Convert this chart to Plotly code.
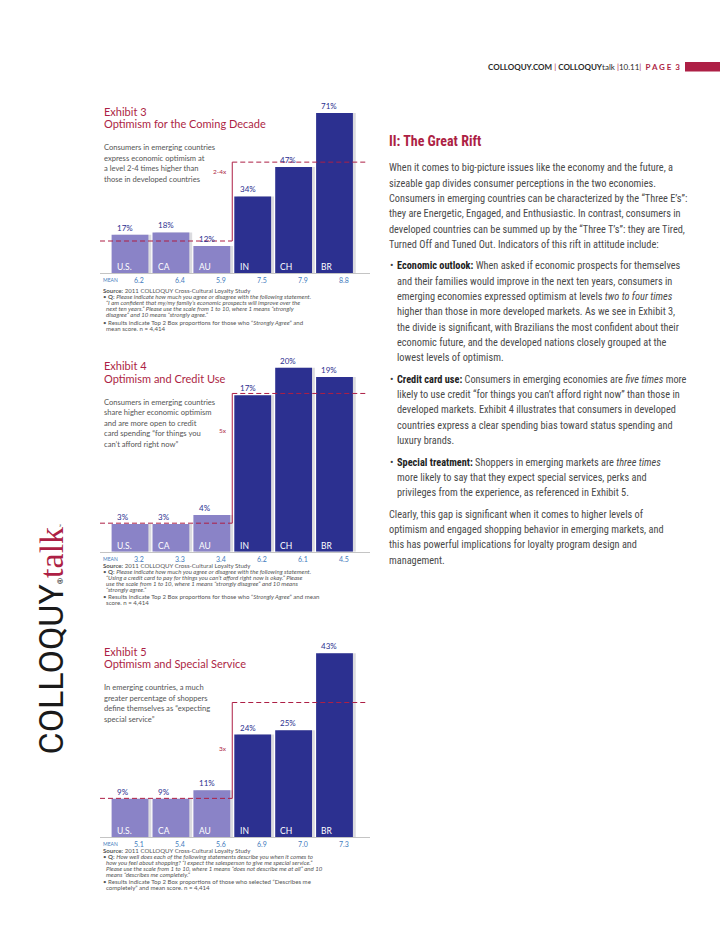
import plotly.graph_objects as go

PAGE_W, PAGE_H = 728, 943
OFF = 8                      # browser default body margin
W, H = PAGE_W - OFF, PAGE_H - OFF

# ---------------- data ----------------
countries = ["U.S.", "CA", "AU", "IN", "CH", "BR"]
market_type = ["developed", "developed", "developed", "emerging", "emerging", "emerging"]

ex3_values = [17, 18, 12, 34, 47, 71]
ex3_means = ["6.2", "6.4", "5.9", "7.5", "7.9", "8.8"]
ex4_values = [3, 3, 4, 17, 20, 19]
ex4_means = ["3.2", "3.3", "3.4", "6.2", "6.1", "4.5"]
ex5_values = [9, 9, 11, 24, 25, 43]
ex5_means = ["5.1", "5.4", "5.6", "6.9", "7.0", "7.3"]

ref_low = [14.2, 3.1, 9.1]      # developed-markets reference level (dashed)
ref_high = [49.2, 17.2, 31.5]   # emerging-markets reference level (dashed)
ratio_labels = ["2-4x", "5x", "3x"]

exhibit_nums = ["Exhibit 3", "Exhibit 4", "Exhibit 5"]
exhibit_titles = ["Optimism for the Coming Decade", "Optimism and Credit Use",
                  "Optimism and Special Service"]
descriptions = [
    ["Consumers in emerging countries", "express economic optimism at",
     "a level 2-4 times higher than", "those in developed countries"],
    ["Consumers in emerging countries", "share higher economic optimism",
     "and are more open to credit", "card spending “for things you",
     "can’t afford right now”"],
    ["In emerging countries, a much", "greater percentage of shoppers",
     "define themselves as “expecting", "special service”"],
]
notes = [
    ["<b>Source:</b> 2011 COLLOQUY Cross-Cultural Loyalty Study",
     "• <b>Q:</b> <i>Please indicate how much you agree or disagree with the following statement.</i>",
     "   <i>“I am confident that my/my family’s economic prospects will improve over the</i>",
     "   <i>next ten years.” Please use the scale from 1 to 10, where 1 means “strongly</i>",
     "   <i>disagree” and 10 means “strongly agree.”</i>",
     "• Results indicate Top 2 Box proportions for those who “<i>Strongly Agree</i>” and",
     "   mean score. n = 4,414"],
    ["<b>Source:</b> 2011 COLLOQUY Cross-Cultural Loyalty Study",
     "• <b>Q:</b> <i>Please indicate how much you agree or disagree with the following statement.</i>",
     "   <i>“Using a credit card to pay for things you can’t afford right now is okay.” Please</i>",
     "   <i>use the scale from 1 to 10, where 1 means “strongly disagree” and 10 means</i>",
     "   <i>“strongly agree.”</i>",
     "• Results indicate Top 2 Box proportions for those who “<i>Strongly Agree</i>” and mean",
     "   score. n = 4,414"],
    ["<b>Source:</b> 2011 COLLOQUY Cross-Cultural Loyalty Study",
     "• <b>Q:</b> <i>How well does each of the following statements describe you when it comes to</i>",
     "   <i>how you feel about shopping? “I expect the salesperson to give me special service.”</i>",
     "   <i>Please use the scale from 1 to 10, where 1 means “does not describe me at all” and 10</i>",
     "   <i>means “describes me completely.”</i>",
     "• Results indicate Top 2 Box proportions of those who selected “Describes me",
     "   completely” and mean score. n = 4,414"],
]

section_title = "II: The Great Rift"
body_blocks = [
    ("para", ["When it comes to big-picture issues like the economy and the future, a",
              "sizeable gap divides consumer perceptions in the two economies.",
              "Consumers in emerging countries can be characterized by the “Three E’s”:",
              "they are Energetic, Engaged, and Enthusiastic. In contrast, consumers in",
              "developed countries can be summed up by the “Three T’s”: they are Tired,",
              "Turned Off and Tuned Out. Indicators of this rift in attitude include:"]),
    ("bullet", ["<b>Economic outlook:</b> When asked if economic prospects for themselves",
                "and their families would improve in the next ten years, consumers in",
                "emerging economies expressed optimism at levels <i>two to four times</i>",
                "higher than those in more developed markets. As we see in Exhibit 3,",
                "the divide is significant, with Brazilians the most confident about their",
                "economic future, and the developed nations closely grouped at the",
                "lowest levels of optimism."]),
    ("bullet", ["<b>Credit card use:</b> Consumers in emerging economies are <i>five times</i> more",
                "likely to use credit “for things you can’t afford right now” than those in",
                "developed markets. Exhibit 4 illustrates that consumers in developed",
                "countries express a clear spending bias toward status spending and",
                "luxury brands."]),
    ("bullet", ["<b>Special treatment:</b> Shoppers in emerging markets are <i>three times</i>",
                "more likely to say that they expect special services, perks and",
                "privileges from the experience, as referenced in Exhibit 5."]),
    ("para", ["Clearly, this gap is significant when it comes to higher levels of",
              "optimism and engaged shopping behavior in emerging markets, and",
              "this has powerful implications for loyalty program design and",
              "management."]),
]

values = [ex3_values, ex4_values, ex5_values]
means = [ex3_means, ex4_means, ex5_means]

# ---------------- styling / layout ----------------
CRIMSON = "#ad1f45"
LIGHT = "#8a83c7"
DARK = "#2c3090"
NAVY_TXT = "#2c3090"
MEAN_CLR = "#3f7bbd"
GREY = "#555555"
BODY_FONT = "Liberation Sans Narrow, Arial Narrow, Roboto Condensed, Roboto, sans-serif"
CH_FONT = "Lato, Open Sans, sans-serif"


def PX(x):
    return (x - OFF) / W


def PY(y):
    return 1 - (y - OFF) / H


X_LEFT, X_RIGHT = 100, 370
PITCH, C0 = 40.9, 130.0
xr = [(X_LEFT - C0) / PITCH, (X_RIGHT - C0) / PITCH]
x_split = 2.5
x_high_end = (368 - C0) / PITCH

base_px = [273, 551.7, 837.3]       # baseline pixel of each exhibit
maxtop_px = [113, 367.7, 653.3]     # pixel of tallest bar top
dom_top_px = [100, 360, 645]
title_y = [(111.5, 123), (366, 378.3), (651, 663.3)]
desc_y0 = [147.3, 401.7, 687.3]
desc_dy = 10.5
notes_y0 = [290.5, 565, 850]
ratio_y = [171, 430, 748]

fig = go.Figure()
annotations = []
shapes = []
layout_axes = {}

for k in range(3):
    xa = "x" if k == 0 else f"x{k+1}"
    ya = "y" if k == 0 else f"y{k+1}"
    vals = values[k]
    scale = (base_px[k] - maxtop_px[k]) / max(vals)  # px per unit
    ymax = (base_px[k] - dom_top_px[k]) / scale
    xs = list(range(len(countries)))
    colors = [LIGHT if m == "developed" else DARK for m in market_type]

    # subtle drop shadow
    fig.add_trace(go.Bar(x=[v + 0.07 for v in xs], y=vals, width=0.9,
                         marker=dict(color="rgba(90,90,110,0.22)", line=dict(width=0)),
                         xaxis=xa, yaxis=ya, hoverinfo="skip", showlegend=False))
    fig.add_trace(go.Bar(x=xs, y=vals, width=0.9,
                         marker=dict(color=colors, line=dict(width=0)),
                         xaxis=xa, yaxis=ya, showlegend=False,
                         hovertext=countries, hoverinfo="text+y"))
    # reference lines
    dash = dict(color=CRIMSON, width=1, dash="5px,3px")
    fig.add_trace(go.Scatter(x=[xr[0], x_split], y=[ref_low[k]] * 2, mode="lines",
                             line=dash, xaxis=xa, yaxis=ya, showlegend=False, hoverinfo="skip"))
    fig.add_trace(go.Scatter(x=[x_split, x_high_end], y=[ref_high[k]] * 2, mode="lines",
                             line=dash, xaxis=xa, yaxis=ya, showlegend=False, hoverinfo="skip"))
    fig.add_trace(go.Scatter(x=[x_split, x_split], y=[ref_low[k], ref_high[k]], mode="lines",
                             line=dict(color=CRIMSON, width=1), xaxis=xa, yaxis=ya,
                             showlegend=False, hoverinfo="skip"))

    key = "" if k == 0 else str(k + 1)
    layout_axes[f"xaxis{key}"] = dict(domain=[PX(X_LEFT), PX(X_RIGHT)], range=xr,
                                      showgrid=False, zeroline=False, showticklabels=False,
                                      ticks="", showline=True, linecolor="#c4c4c4",
                                      linewidth=1, anchor=ya, fixedrange=True)
    layout_axes[f"yaxis{key}"] = dict(domain=[PY(base_px[k]), PY(dom_top_px[k])],
                                      range=[0, ymax], showgrid=False, zeroline=False,
                                      showticklabels=False, ticks="", showline=False,
                                      anchor=xa, fixedrange=True)

    # value labels & category labels & means
    for i, (c, v) in enumerate(zip(countries, vals)):
        annotations.append(dict(x=i - 0.37, y=v, xref=xa, yref=ya, text=f"{v}%",
                                showarrow=False, xanchor="left", yanchor="bottom",
                                font=dict(family=CH_FONT, size=8, color=NAVY_TXT)))
        annotations.append(dict(x=i - 0.37, y=PY(base_px[k] - 6), xref=xa, yref="paper",
                                text=c, showarrow=False, xanchor="left", yanchor="middle",
                                font=dict(family=CH_FONT, size=8.5, color="white")))
        annotations.append(dict(x=i + 0.23, y=PY(base_px[k] + 7), xref=xa, yref="paper",
                                text=means[k][i], showarrow=False, xanchor="center",
                                yanchor="middle",
                                font=dict(family=CH_FONT, size=7, color=MEAN_CLR)))
    annotations.append(dict(x=PX(101), y=PY(base_px[k] + 7), xref="paper", yref="paper",
                            text="MEAN", showarrow=False, xanchor="left", yanchor="middle",
                            font=dict(family=CH_FONT, size=5, color=MEAN_CLR)))
    annotations.append(dict(x=2.42, y=PY(ratio_y[k]), xref=xa, yref="paper",
                            text=ratio_labels[k], showarrow=False, xanchor="right",
                            yanchor="middle",
                            font=dict(family=CH_FONT, size=6.5, color=CRIMSON)))
    # titles
    annotations.append(dict(x=PX(102), y=PY(title_y[k][0]), xref="paper", yref="paper",
                            text=exhibit_nums[k], showarrow=False, xanchor="left",
                            yanchor="middle",
                            font=dict(family=CH_FONT, size=11, color=CRIMSON)))
    annotations.append(dict(x=PX(102), y=PY(title_y[k][1]), xref="paper", yref="paper",
                            text=exhibit_titles[k], showarrow=False, xanchor="left",
                            yanchor="middle",
                            font=dict(family=CH_FONT, size=11, color=CRIMSON)))
    for j, line in enumerate(descriptions[k]):
        annotations.append(dict(x=PX(102), y=PY(desc_y0[k] + j * desc_dy), xref="paper",
                                yref="paper", text=line, showarrow=False, xanchor="left",
                                yanchor="middle",
                                font=dict(family=CH_FONT, size=7.6, color=GREY)))
    ny = notes_y0[k]
    for j, line in enumerate(notes[k]):
        if j == 5:
            ny += 1.5
        indent = 104 if line.startswith("   ") else 100.5
        annotations.append(dict(x=PX(indent), y=PY(ny), xref="paper", yref="paper",
                                text=line.strip(), showarrow=False, xanchor="left",
                                yanchor="middle",
                                font=dict(family=CH_FONT, size=6.1, color=GREY)))
        ny += 6

# ---------------- right column text ----------------
annotations.append(dict(x=PX(387), y=PY(140.5), xref="paper", yref="paper",
                        text=f"<b>{section_title}</b>", showarrow=False, xanchor="left",
                        yanchor="middle", font=dict(family=BODY_FONT, size=14, color=CRIMSON)))
ly = 167.7
LINE = 15.35
for kind, lines in body_blocks:
    for j, line in enumerate(lines):
        if kind == "bullet":
            if j == 0:
                annotations.append(dict(x=PX(387.5), y=PY(ly), xref="paper", yref="paper",
                                        text="•", showarrow=False, xanchor="left",
                                        yanchor="middle",
                                        font=dict(family=BODY_FONT, size=10.3, color="#444")))
            x0 = 395
        else:
            x0 = 387
        txt = line.replace("<b>", "<b><span style='color:#222'>").replace("</b>", "</span></b>")
        annotations.append(dict(x=PX(x0), y=PY(ly), xref="paper", yref="paper", text=txt,
                                showarrow=False, xanchor="left", yanchor="middle",
                                font=dict(family=BODY_FONT, size=10.3, color="#4a4a4a")))
        ly += LINE
    ly += 6

# ---------------- header ----------------
sep = f"<span style='color:{CRIMSON}'>|</span>"
header = (f"<b>COLLOQUY.COM</b> {sep} <b>COLLOQUY</b>talk {sep}10.11{sep}  "
          f"<span style='color:{CRIMSON}'><b>P A G E  3</b></span>")
annotations.append(dict(x=PX(682), y=PY(67), xref="paper", yref="paper", text=header,
                        showarrow=False, xanchor="right", yanchor="middle",
                        font=dict(family=CH_FONT, size=8, color="#2a2a2a")))
shapes.append(dict(type="rect", xref="paper", yref="paper", x0=PX(685), x1=1.0,
                   y0=PY(71.5), y1=PY(62), fillcolor=CRIMSON, line=dict(width=0)))

# ---------------- vertical logo ----------------
logo = ("COLLOQUY<span style='font-size:8px'>®</span>"
        f"<span style='font-family:Liberation Serif, DejaVu Serif, serif;color:{CRIMSON}'>talk</span>"
        "<span style='font-size:5px'>™</span>")
annotations.append(dict(x=PX(50), y=PY(639.5), xref="paper", yref="paper", text=logo,
                        textangle=-90, showarrow=False, xanchor="center", yanchor="middle",
                        font=dict(family="Liberation Sans Narrow, Roboto, sans-serif",
                                  size=34, color="#1a1a1a")))

fig.update_layout(width=W, height=H, margin=dict(l=0, r=0, t=0, b=0),
                  paper_bgcolor="white", plot_bgcolor="rgba(0,0,0,0)",
                  barmode="overlay", showlegend=False,
                  annotations=annotations, shapes=shapes, **layout_axes)

fig.write_html("out.html", config={"displayModeBar": False})
